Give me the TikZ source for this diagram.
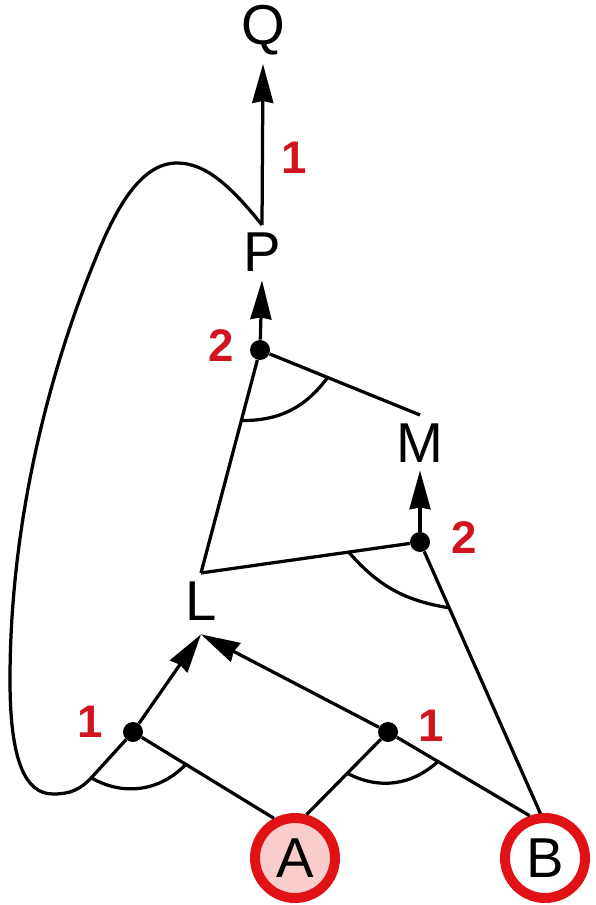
\documentclass[tikz,border=0pt]{standalone}
\usepackage{fontspec}
\setmainfont{Liberation Sans}
\usetikzlibrary{arrows.meta,calc}

\definecolor{goalred}{RGB}{224,18,22}
\definecolor{numred}{RGB}{208,20,32}
\definecolor{startpink}{RGB}{250,205,205}

\begin{document}
\begin{tikzpicture}[
        x=0.02cm, y=0.02cm,
        line/.style={black, line width=0.065cm},
        arr/.style={line, ->, >={Stealth[length=0.78cm,width=0.42cm,inset=0.04cm]}},
        andarc/.style={line, bend right=#1},
        letter/.style={inner sep=0.16cm, font=\fontsize{32}{36}\selectfont},
        start/.style={letter, circle, draw=goalred, line width=0.2cm,
            minimum size=1.6cm, inner sep=0pt},
        dot/.style={circle, fill=black, minimum size=0.4cm, inner sep=0pt},
        wt/.style={text=numred, inner sep=0pt, font=\fontsize{26}{30}\selectfont\bfseries},
    ]
    \useasboundingbox (0,0) rectangle (595,-905);
    % start nodes
    \node[start, fill=startpink] (A) at (295,-858) {A};
    \node[start, fill=white] (B) at (545,-858) {B};
    % derived nodes
    \node[letter, anchor=base, text depth=0.12cm] (L) at (201,-620) {L};
    \node[letter, anchor=base] (M) at (420,-462) {M};
    \node[letter, anchor=base] (P) at (262,-272) {P};
    \node[letter, anchor=base] (Q) at (263,-45) {Q};
    % hyperedge junctions
    \node[dot, label={[wt, label distance=0.38cm, yshift=0.2cm]left:1}] (d1) at (133,-732) {};
    \node[dot, label={[wt, label distance=0.39cm, yshift=0.12cm]right:1}] (d2) at (388,-732) {};
    \node[dot, label={[wt, label distance=0.3cm, yshift=0.08cm]left:2}] (d3) at (260,-350) {};
    \node[dot, label={[wt, label distance=0.42cm, yshift=0.08cm]right:2}] (d4) at (420,-542) {};
    \coordinate (kb) at (92,-777);
    % A, P -> L
    \draw[line] (P.north) .. controls (230,-185) and (205,-163) .. (177,-163)
        .. controls (140,-163) and (115,-210) .. (95,-260)
        .. controls (50,-370) and (10,-520) .. (10,-680)
        .. controls (10,-760) and (25,-794) .. (53,-794)
        .. controls (70,-794) and (80,-790) .. (kb) -- (d1);
    \draw[line] (A.118) -- (d1);
    \draw[arr] (d1) -- (L.south);
    \draw[andarc=38] ($(d1)!1.24cm!(kb)$) to ($(d1)!1.24cm!(A.118)$);
    % A, B -> L
    \draw[line] (A.75) -- (d2);
    \draw[line] (B.110) -- (d2);
    \draw[arr] (d2) -- (L.south);
    \draw[andarc=35] ($(d2)!1.16cm!(A.75)$) to ($(d2)!1.16cm!(B.110)$);
    % L, B -> M
    \draw[line] (L.north) -- (d4);
    \draw[line] (B.96) -- (d4);
    \draw[arr] (d4) -- (M.south);
    \draw[andarc=20] ($(d4)!1.44cm!(L.north)$) to ($(d4)!1.44cm!(B.96)$);
    % L, M -> P
    \draw[line] (L.north) -- (d3);
    \draw[line] (M.north) -- (d3);
    \draw[arr] (d3) -- (P.south);
    \draw[andarc=27] ($(d3)!1.46cm!(L.north)$) to ($(d3)!1.46cm!(M.north)$);
    % P -> Q
    \draw[arr] (P.north) -- node[wt, pos=0.42, right=0.34cm] (w0) {1} (Q.south);
\end{tikzpicture}
\end{document}
